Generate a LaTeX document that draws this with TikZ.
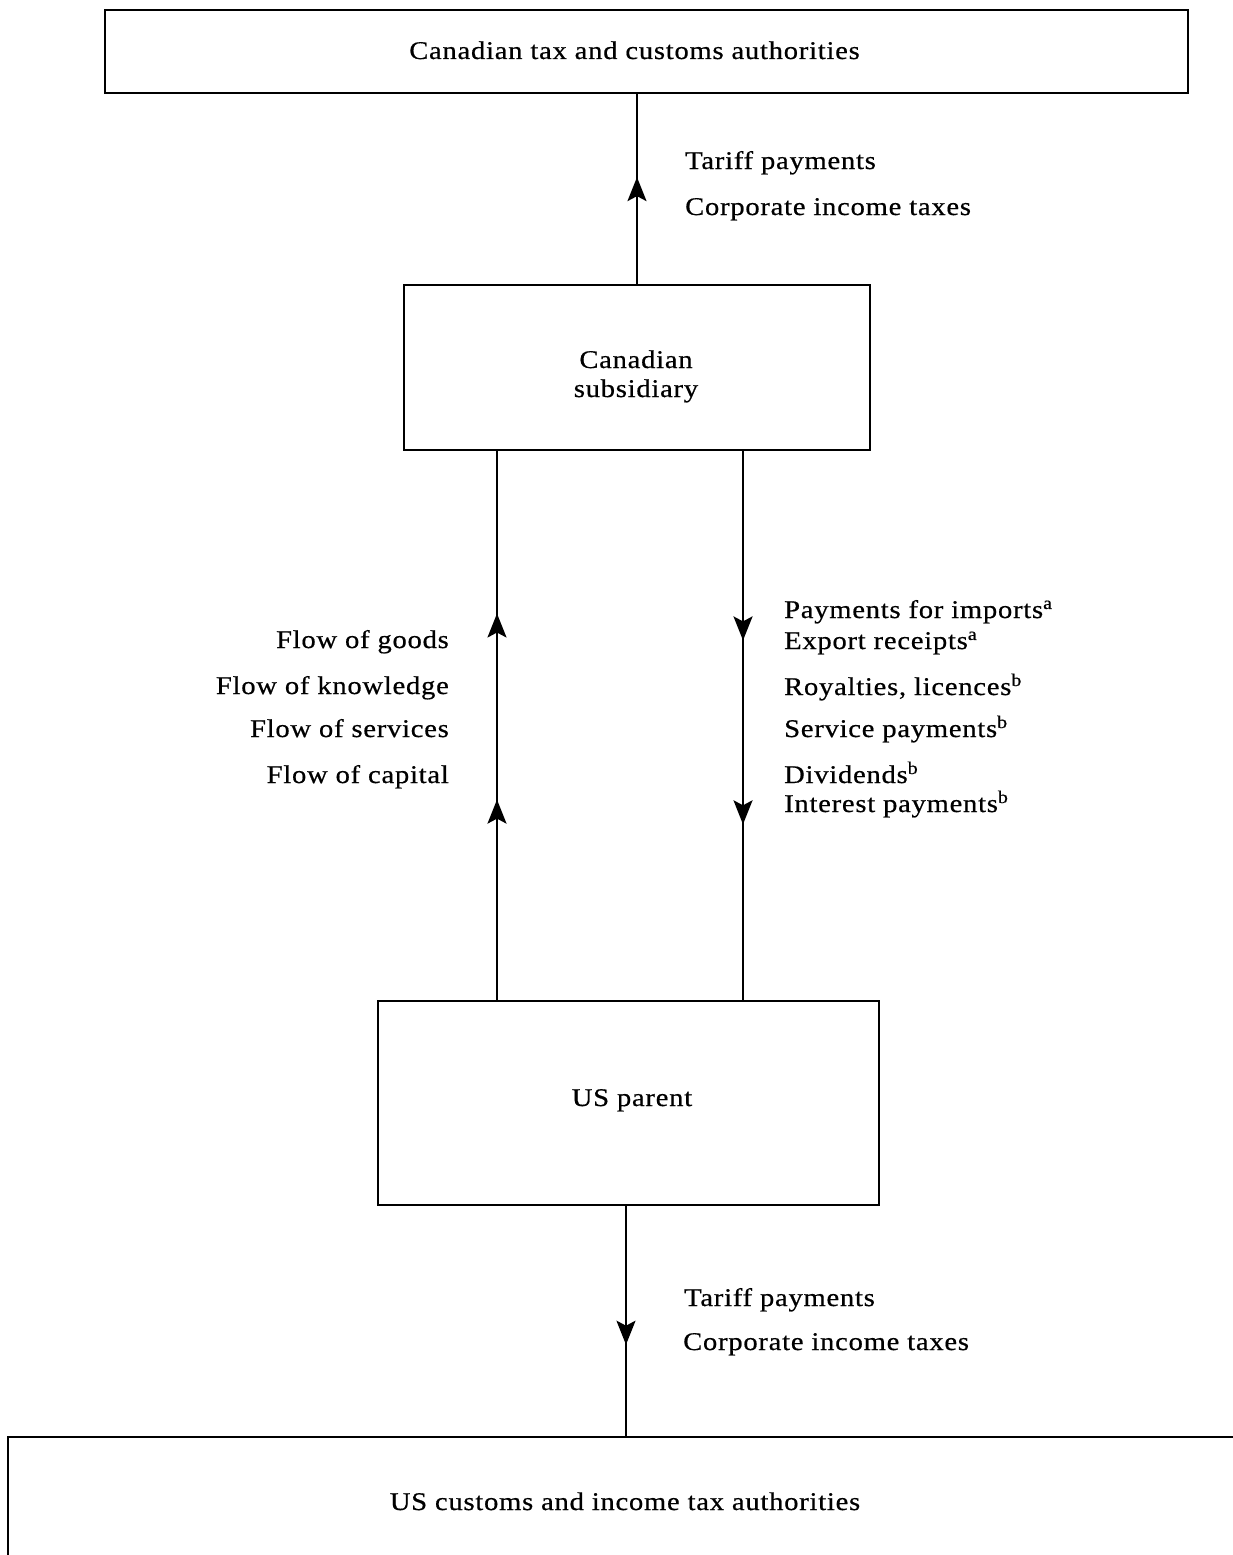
\documentclass[tikz,border=0pt]{standalone}
\usepackage{fontspec}
\setmainfont[FakeStretch=1.12,LetterSpace=3,FakeBold=0.6]{Liberation Serif}
\usetikzlibrary{arrows.meta,decorations.markings}
\begin{document}
\begin{tikzpicture}[x=1pt,y=-1pt,
  box/.style={draw,line width=2pt,rectangle,inner sep=0pt},
  txt/.style={inner sep=0pt,font=\fontsize{25.5}{30}\selectfont},
  conn/.style={line width=2pt},
  headA/.style={postaction={decorate},decoration={markings,
     mark=at position #1 with {\arrow{Stealth[length=24pt,width=19pt,inset=5pt]}}}},
  headB/.style n args={2}{postaction={decorate},decoration={markings,
     mark=at position #1 with {\arrow{Stealth[length=24pt,width=19pt,inset=5pt]}},
     mark=at position #2 with {\arrow{Stealth[length=24pt,width=19pt,inset=5pt]}}}},
]
\useasboundingbox (0,0) rectangle (1233,1555);
\begin{scope}
\clip (0,0) rectangle (1233,1555);
% boxes
\node[box,minimum width=1083pt,minimum height=83pt] (ctax) at (646.5,51.5) {};
\node[box,minimum width=466pt,minimum height=165pt] (sub) at (637,367.5) {};
\node[box,minimum width=501pt,minimum height=204pt] (parent) at (628.5,1103) {};
\node[box,minimum width=1250pt,minimum height=163pt] (ustax) at (633,1518.5) {};
% box texts
\node[txt,anchor=base] (ctaxt) at (634.5,59) {Canadian tax and customs authorities};
\node[txt,anchor=base] (subt1) at (636,368) {Canadian};
\node[txt,anchor=base] (subt2) at (636,397) {subsidiary};
\node[txt,anchor=base] (parentt) at (632,1106) {US parent};
\node[txt,anchor=base] (ustaxt) at (625,1510) {US customs and income tax authorities};
% connectors
\draw[conn,headA=0.5625] (sub.north) -- (sub.north |- ctax.south);
\draw[conn,headB={0.365}{0.704}] ([xshift=-131.5pt]parent.north) -- ([xshift=-140pt]sub.south);
\draw[conn,headB={0.345}{0.68}] ([xshift=106pt]sub.south) -- ([xshift=114.5pt]parent.north);
\draw[conn,headA=0.603] ([xshift=-2.5pt]parent.south) -- ([xshift=-7pt]ustax.north);
% labels top
\node[txt,anchor=base west] (l1) at (685,169) {Tariff payments};
\node[txt,anchor=base west] (l2) at (685,215) {Corporate income taxes};
% labels left
\node[txt,anchor=base east] (f1) at (449,648) {Flow of goods};
\node[txt,anchor=base east] (f2) at (449,694) {Flow of knowledge};
\node[txt,anchor=base east] (f3) at (449,737) {Flow of services};
\node[txt,anchor=base east] (f4) at (449,783) {Flow of capital};
% labels right
\node[txt,anchor=base west] (p1) at (784,618) {Payments for imports\textsuperscript{a}};
\node[txt,anchor=base west] (p2) at (784,649) {Export receipts\textsuperscript{a}};
\node[txt,anchor=base west] (p3) at (784,695) {Royalties, licences\textsuperscript{b}};
\node[txt,anchor=base west] (p4) at (784,737) {Service payments\textsuperscript{b}};
\node[txt,anchor=base west] (p5) at (784,783) {Dividends\textsuperscript{b}};
\node[txt,anchor=base west] (p6) at (784,812) {Interest payments\textsuperscript{b}};
% labels bottom
\node[txt,anchor=base west] (b1) at (684,1306) {Tariff payments};
\node[txt,anchor=base west] (b2) at (683,1350) {Corporate income taxes};
\end{scope}
\end{tikzpicture}
\end{document}
